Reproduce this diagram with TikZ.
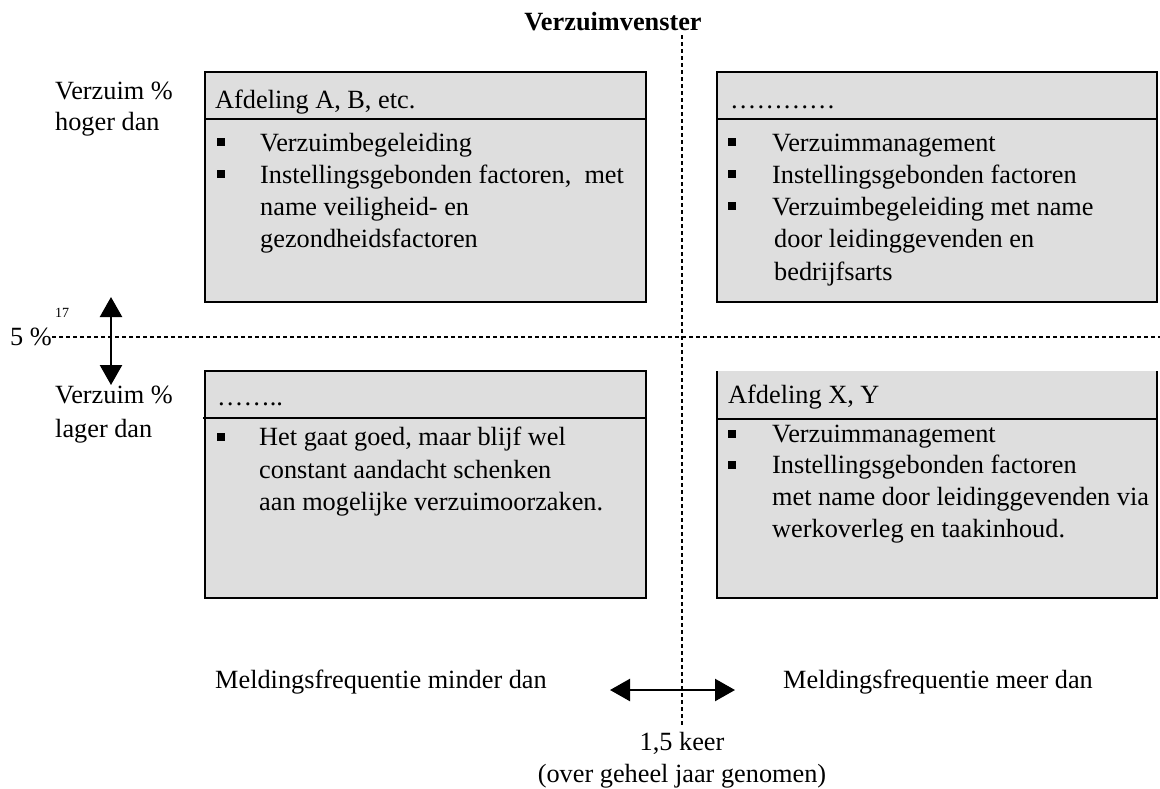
\documentclass[tikz,border=0pt]{standalone}
\usepackage{fontspec}
\setmainfont{Liberation Serif}
\usetikzlibrary{arrows.meta}
\definecolor{boxgrey}{RGB}{222,222,222}
\tikzset{
  panel/.style={draw=black, line width=2pt, fill=boxgrey, anchor=north west,
    inner sep=0pt, outer sep=0pt},
  openpanel/.style={fill=boxgrey, anchor=north west, inner sep=0pt, outer sep=0pt},
  edge/.style={line width=2pt},
  divider/.style={line width=1.4pt},
  txt/.style={anchor=base west, inner sep=0pt, font=\fontsize{26.3}{32}\selectfont},
  ctxt/.style={anchor=base, inner sep=0pt, font=\fontsize{26.3}{32}\selectfont},
  bul/.style={fill=black, minimum size=7.5pt, inner sep=0pt},
  guide/.style={line width=1.5pt, dash pattern=on 4pt off 3pt},
  dbl/.style={line width=2.4pt,
    {Triangle[width=22pt,length=20pt]}-{Triangle[width=22pt,length=20pt]}},
}
\begin{document}
\begin{tikzpicture}[x=1pt,y=-1pt]
\useasboundingbox (0,0) rectangle (1160,788);

% title and quadrant guides
\node[ctxt, font=\fontsize{26.3}{32}\selectfont\bfseries] (title) at (613,30) {Verzuimvenster};
\coordinate (vtop) at (682,35);
\coordinate (vbot) at (682,726);
\draw[guide] (vtop) -- (vbot);

\node[txt] (pct) at (10,345) {5 \%};
\node[txt, font=\fontsize{14}{16}\selectfont] (fn) at (55,317) {17};
\coordinate (hend) at (1160,337);
\draw[guide] (pct.east |- hend) -- (hend);

% vertical axis labels
\node[txt] (hi1) at (55,99) {Verzuim \%};
\node[txt] (hi2) at (55,130) {hoger dan};
\node[txt] (lo1) at (55,403) {Verzuim \%};
\node[txt] (lo2) at (55,437) {lager dan};
\coordinate (vup) at (111,297);
\coordinate (vdn) at (111,385);
\draw[dbl] (vup) -- (vdn);

% quadrant panels
\node[panel, minimum width=441pt, minimum height=230pt] (ul) at (205,72) {};
\node[panel, minimum width=440pt, minimum height=230pt] (ur) at (717,72) {};
\node[panel, minimum width=441pt, minimum height=227pt] (ll) at (205,371) {};
\node[openpanel, minimum width=440pt, minimum height=227pt] (lr) at (717,371) {};
\draw[edge] (lr.north west) -- (lr.south west) -- (lr.south east) -- (lr.north east);

\draw[divider] (ul.west |- 0,119) -- (ul.east |- 0,119);
\draw[divider] (ur.west |- 0,119) -- (ur.east |- 0,119);
\draw[divider] (203,418) -- (ll.east |- 0,418);
\draw[divider] (lr.west |- 0,419) -- (lr.east |- 0,419);

% upper left
\node[txt] (ulh) at (215,108) {Afdeling A, B, etc.};
\node[bul] (ulb1) at (221,142) {};
\node[bul] (ulb2) at (221,174) {};
\node[txt] (ult1) at (260,151) {Verzuimbegeleiding};
\node[txt] (ult2) at (260,183) {Instellingsgebonden factoren,\ \ met};
\node[txt] (ult3) at (260,215) {name veiligheid- en};
\node[txt] (ult4) at (260,247) {gezondheidsfactoren};

% upper right
\node[txt] (urh) at (730,108) {…………};
\node[bul] (urb1) at (732,142) {};
\node[bul] (urb2) at (732,174) {};
\node[bul] (urb3) at (732,206) {};
\node[txt] (urt1) at (772,151) {Verzuimmanagement};
\node[txt] (urt2) at (772,183) {Instellingsgebonden factoren};
\node[txt] (urt3) at (772,215) {Verzuimbegeleiding met name};
\node[txt] (urt4) at (774,247) {door leidinggevenden en};
\node[txt] (urt5) at (774,280) {bedrijfsarts};

% lower left
\node[txt] (llh) at (217,405) {……..};
\node[bul] (llb1) at (221,437) {};
\node[txt] (llt1) at (259,445) {Het gaat goed, maar blijf wel};
\node[txt] (llt2) at (259,478) {constant aandacht schenken};
\node[txt] (llt3) at (259,510) {aan mogelijke verzuimoorzaken.};

% lower right
\node[txt] (lrh) at (728,403) {Afdeling X, Y};
\node[bul] (lrb1) at (732,434) {};
\node[bul] (lrb2) at (732,465) {};
\node[txt] (lrt1) at (772,442) {Verzuimmanagement};
\node[txt] (lrt2) at (772,473) {Instellingsgebonden factoren};
\node[txt] (lrt3) at (772,505) {met name door leidinggevenden via};
\node[txt] (lrt4) at (772,537) {werkoverleg en taakinhoud.};

% horizontal axis
\node[txt] (fmin) at (215,688) {Meldingsfrequentie minder dan};
\node[txt] (fmax) at (783,688) {Meldingsfrequentie meer dan};
\coordinate (hl) at (610,690);
\coordinate (hr) at (735,690);
\draw[dbl] (hl) -- (hr);
\node[ctxt] (thr1) at (682,750) {1,5 keer};
\node[ctxt] (thr2) at (682,782) {(over geheel jaar genomen)};
\end{tikzpicture}
\end{document}
